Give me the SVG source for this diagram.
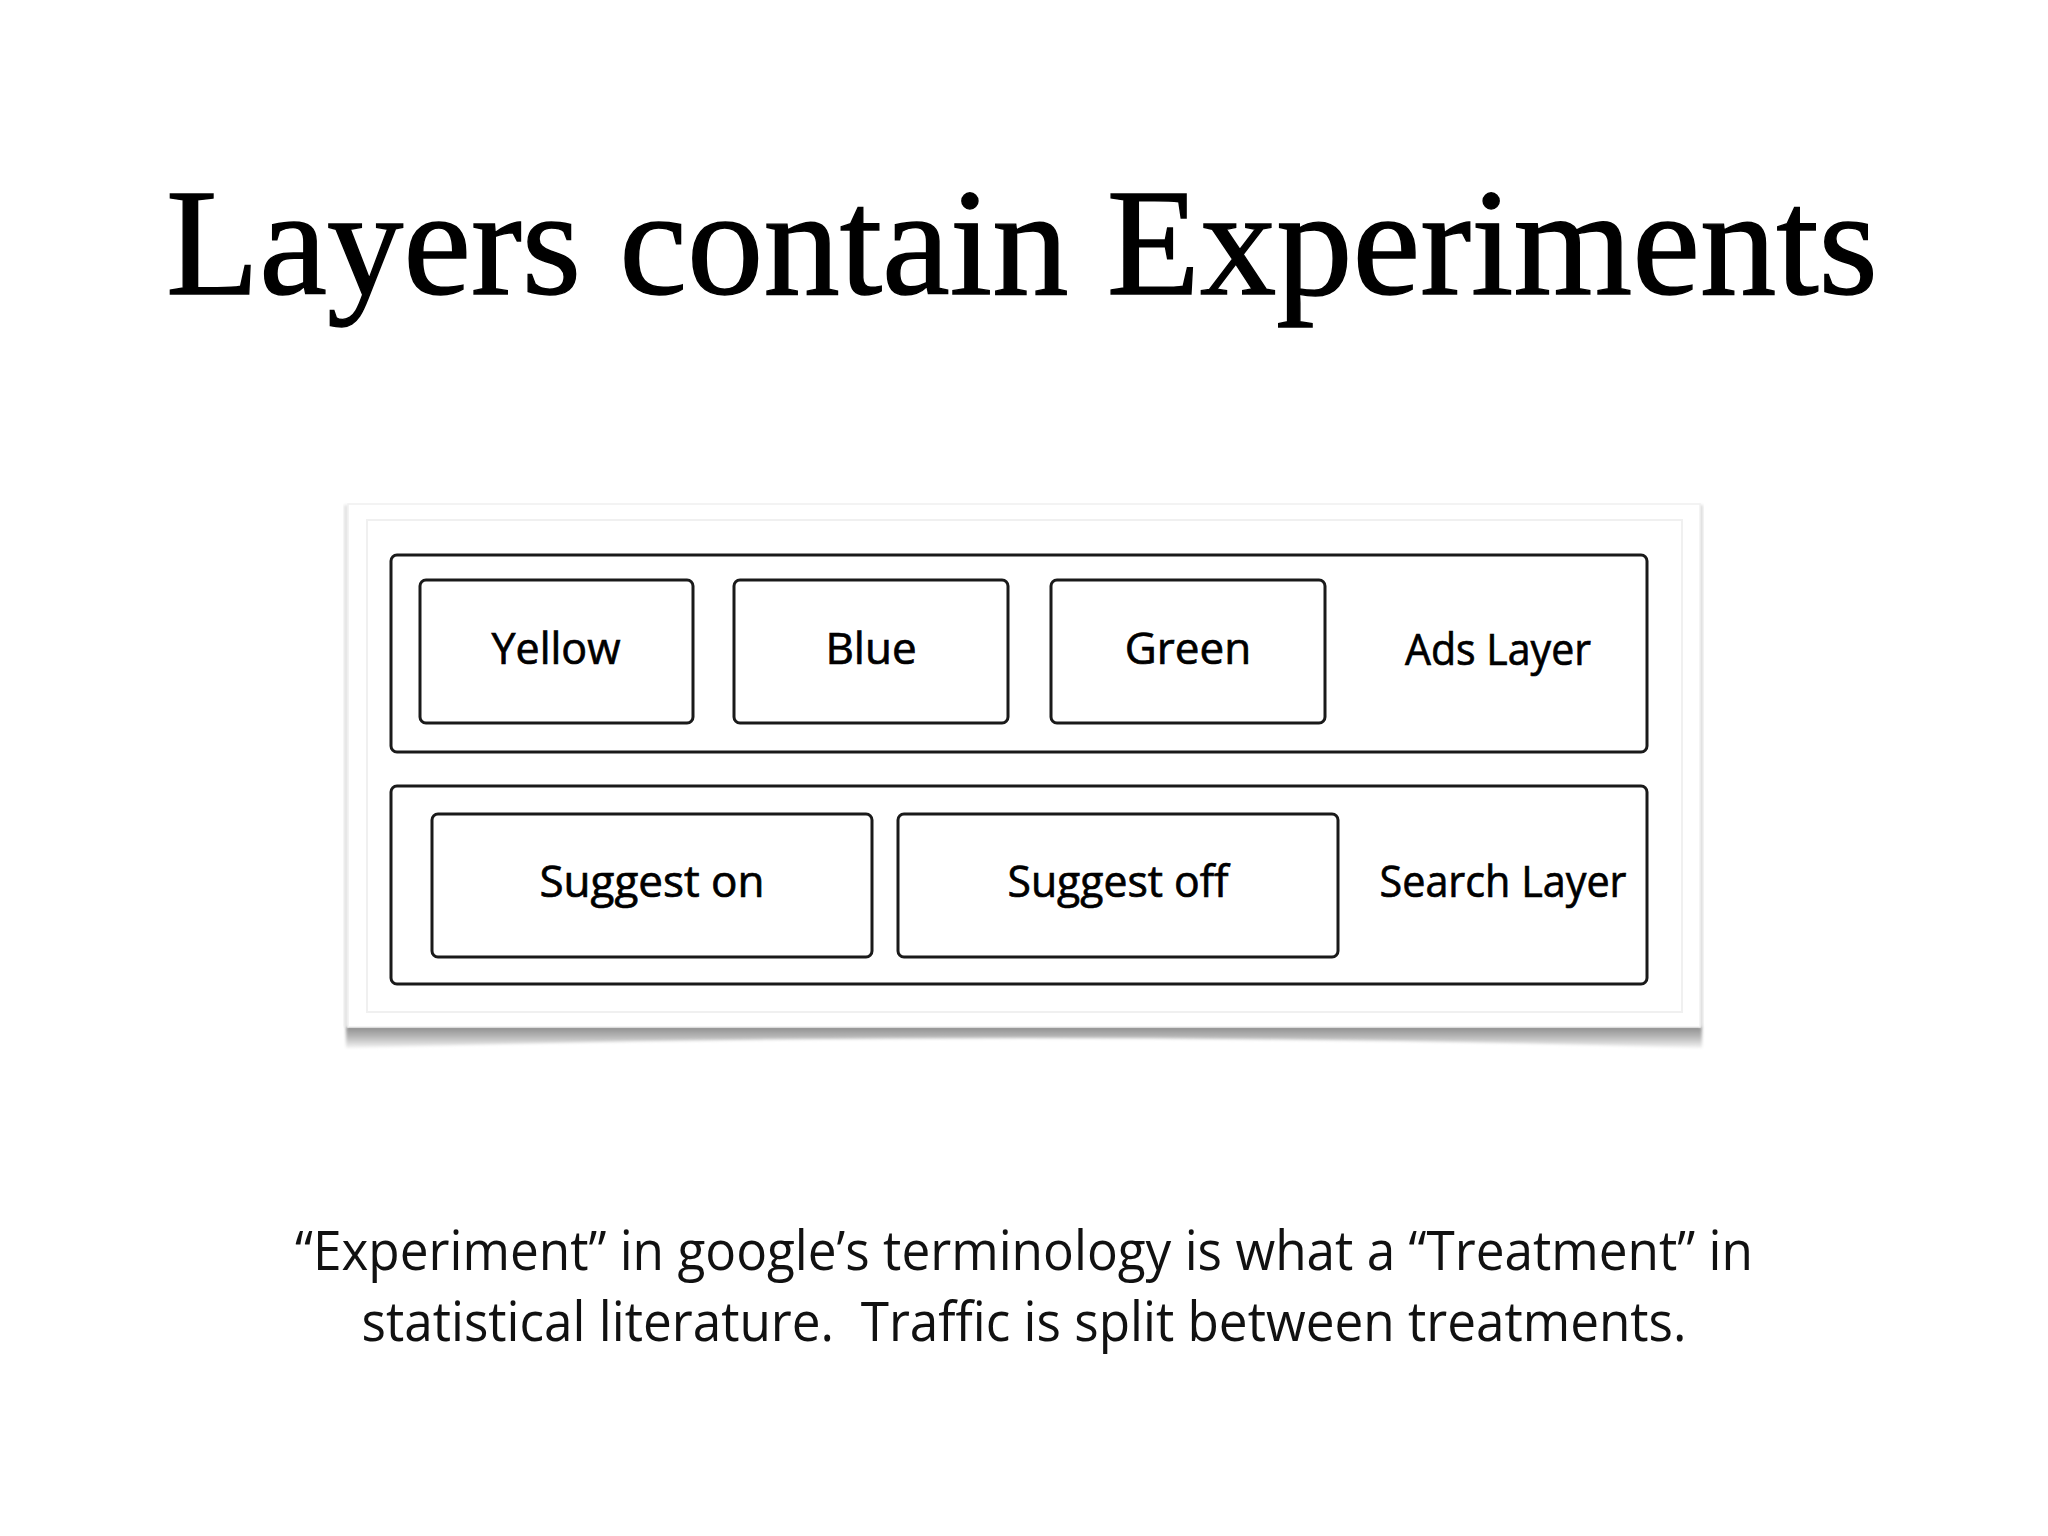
<svg xmlns="http://www.w3.org/2000/svg" width="2048" height="1536" viewBox="0 0 2048 1536">
<defs>
<style>
.title{font-family:"Liberation Serif","DejaVu Serif",serif;font-size:152px;fill:#000;stroke:#000;stroke-width:1.4}
.lbl{font-family:"Open Sans","Noto Sans","Liberation Sans",sans-serif;font-size:44px;fill:#000;stroke:#000;stroke-width:0.7}
.body{font-family:"Open Sans","Noto Sans","Liberation Sans",sans-serif;font-size:54px;fill:#111}
.layer{fill:#fff;stroke:#1a1a1a;stroke-width:3;rx:6}
.exp{fill:#fff;stroke:#1a1a1a;stroke-width:3;rx:6}
</style>
<linearGradient id="sh" x1="0" y1="0" x2="0" y2="1">
<stop offset="0" stop-color="#8a8a8a"/>
<stop offset="0.5" stop-color="#b8b8b8"/>
<stop offset="1" stop-color="#f4f4f4"/>
</linearGradient>
<filter id="blur" x="-5%" y="-100%" width="110%" height="300%"><feGaussianBlur stdDeviation="1.5"/></filter>
</defs>
<rect width="2048" height="1536" fill="#fff"/>
<text class="title" x="1022" y="294" text-anchor="middle" textLength="1712" lengthAdjust="spacingAndGlyphs">Layers contain Experiments</text>
<g id="panel">
<path d="M346 1026 L1702 1026 L1702 1048 Q1024 1028 346 1048 Z" fill="url(#sh)" filter="url(#blur)"/>
<rect x="344" y="505" width="4" height="522" fill="#e2e2e2" filter="url(#blur)"/>
<rect x="1699" y="505" width="4" height="522" fill="#dcdcdc" filter="url(#blur)"/>
<rect x="348" y="504" width="1352" height="523" fill="#fff" stroke="#f0f0f0" stroke-width="1.5"/>
<rect x="367" y="520" width="1315" height="492" fill="none" stroke="#f0f0f0" stroke-width="2"/>
</g>
<g id="ads-layer">
<rect class="layer" x="391" y="555" width="1256" height="197"/>
<text class="lbl" x="1498" y="665" text-anchor="middle" textLength="186" lengthAdjust="spacingAndGlyphs">Ads Layer</text>
</g>
<g id="yellow">
<rect class="exp" x="420" y="580" width="273" height="143"/>
<text class="lbl" x="556" y="664" text-anchor="middle" textLength="129" lengthAdjust="spacingAndGlyphs">Yellow</text>
</g>
<g id="blue">
<rect class="exp" x="734" y="580" width="274" height="143"/>
<text class="lbl" x="871" y="664" text-anchor="middle">Blue</text>
</g>
<g id="green">
<rect class="exp" x="1051" y="580" width="274" height="143"/>
<text class="lbl" x="1188" y="664" text-anchor="middle">Green</text>
</g>
<g id="search-layer">
<rect class="layer" x="391" y="786" width="1256" height="198"/>
<text class="lbl" x="1503" y="897" text-anchor="middle" textLength="247" lengthAdjust="spacingAndGlyphs">Search Layer</text>
</g>
<g id="suggest-on">
<rect class="exp" x="432" y="814" width="440" height="143"/>
<text class="lbl" x="652" y="897" text-anchor="middle">Suggest on</text>
</g>
<g id="suggest-off">
<rect class="exp" x="898" y="814" width="440" height="143"/>
<text class="lbl" x="1118" y="897" text-anchor="middle" textLength="221" lengthAdjust="spacingAndGlyphs">Suggest off</text>
</g>
<g id="connectors"/>
<text class="body" x="1024" y="1270" text-anchor="middle" textLength="1458" lengthAdjust="spacingAndGlyphs">“Experiment” in google’s terminology is what a “Treatment” in</text>
<text class="body" x="1024" y="1341" text-anchor="middle" textLength="1325" lengthAdjust="spacingAndGlyphs">statistical literature.&#160; Traffic is split between treatments.</text>
</svg>
